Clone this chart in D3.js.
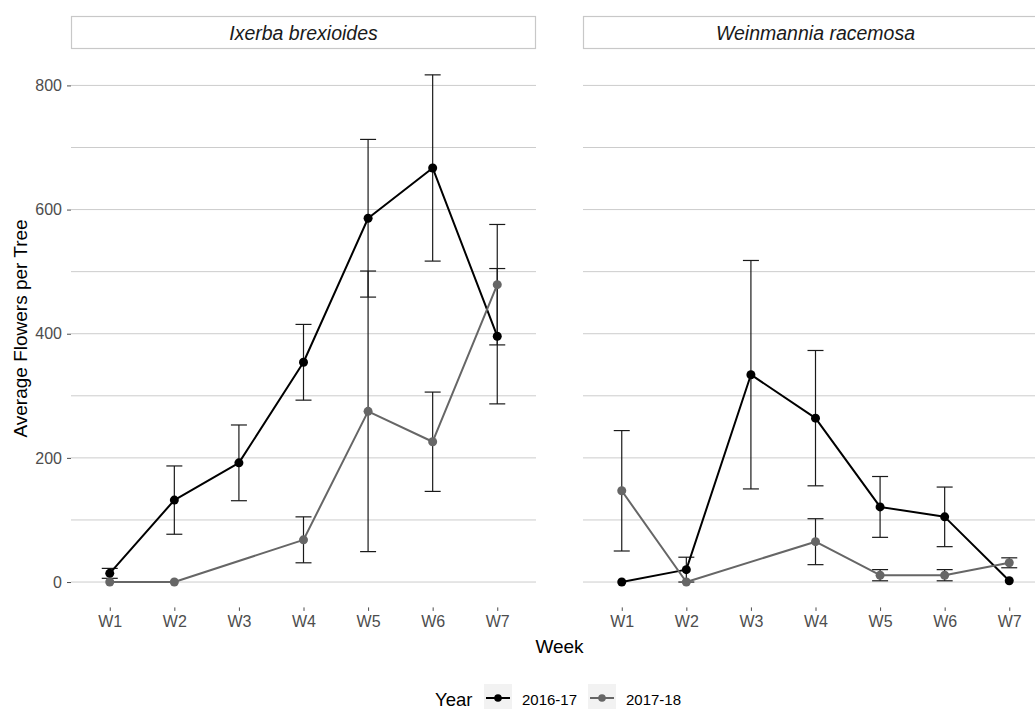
<!DOCTYPE html>
<html>
<head>
<meta charset="utf-8">
<script src="https://cdn.jsdelivr.net/npm/d3@7"></script>
<style>
  body { margin: 0; background: #fff; }
  svg { display: block; font-family: "Liberation Sans", Arial, sans-serif; }
</style>
</head>
<body>
<svg id="chart" width="1035" height="709"></svg>
<script>
// Survey weeks, species facets and flowering seasons
const weeks = ["W1", "W2", "W3", "W4", "W5", "W6", "W7"];
const species = ["Ixerba brexioides", "Weinmannia racemosa"];
const years = ["2016-17", "2017-18"];

// Mean flowers per tree and its error half-width (null = week not surveyed)
const ixerbaMean1617 = [14, 132, 192, 354, 586, 667, 396];
const ixerbaErr1617  = [8, 55, 61, 61, 127, 150, 109];
const ixerbaMean1718 = [0, 0, null, 68, 275, 226, 479];
const ixerbaErr1718  = [0, 0, null, 37, 226, 80, 97];
const weinMean1617   = [0, 20, 334, 264, 121, 105, 2];
const weinErr1617    = [0, 20, 184, 109, 49, 48, 0];
const weinMean1718   = [147, 0, null, 65, 11, 11, 31];
const weinErr1718    = [97, 0, null, 37, 9, 9, 8];

const yTicks = [0, 200, 400, 600, 800];
const yMinor = [100, 300, 500, 700];

const seriesColor = { "2016-17": "#000000", "2017-18": "#666666" };

// Assemble per-facet, per-year records
const facetData = {
  "Ixerba brexioides": {
    "2016-17": { mean: ixerbaMean1617, err: ixerbaErr1617 },
    "2017-18": { mean: ixerbaMean1718, err: ixerbaErr1718 }
  },
  "Weinmannia racemosa": {
    "2016-17": { mean: weinMean1617, err: weinErr1617 },
    "2017-18": { mean: weinMean1718, err: weinErr1718 }
  }
};
function records(sp, yr) {
  const s = facetData[sp][yr];
  return weeks.map((w, i) => ({ week: w, mean: s.mean[i], err: s.err[i] }))
              .filter(d => d.mean !== null);
}

const svg = d3.select("#chart");

// Layout
const panelLeft = 71, panelW = 465, panelGap = 47;
const panelTop = 49.5, panelBottom = 607.4;
const stripTop = 16.5, stripH = 32;

// Shared y scale with 5% expansion around the data range
let yMax = 0;
species.forEach(sp => years.forEach(yr => records(sp, yr).forEach(d => {
  yMax = Math.max(yMax, d.mean + d.err);
})));
const pad = yMax * 0.05;
const y = d3.scaleLinear().domain([-pad, yMax + pad]).range([panelBottom, panelTop]);

species.forEach((sp, i) => {
  const x0 = panelLeft + i * (panelW + panelGap);
  const x = d3.scalePoint().domain(weeks).range([x0, x0 + panelW]).padding(0.6);
  const g = svg.append("g");

  // Grid lines
  g.selectAll("line.minor").data(yMinor).join("line")
    .attr("x1", x0).attr("x2", x0 + panelW)
    .attr("y1", d => y(d)).attr("y2", d => y(d))
    .attr("stroke", "#cccccc").attr("stroke-width", 1);
  g.selectAll("line.major").data(yTicks).join("line")
    .attr("x1", x0).attr("x2", x0 + panelW)
    .attr("y1", d => y(d)).attr("y2", d => y(d))
    .attr("stroke", "#cccccc").attr("stroke-width", 1);

  // Facet strip
  g.append("rect")
    .attr("x", x0 + 0.5).attr("y", stripTop)
    .attr("width", panelW - 1).attr("height", stripH)
    .attr("fill", "#ffffff").attr("stroke", "#c8c8c8").attr("stroke-width", 1.2);
  g.append("text")
    .attr("x", x0 + panelW / 2).attr("y", stripTop + stripH / 2 + 7)
    .attr("text-anchor", "middle")
    .attr("font-size", 19.5).attr("font-style", "italic").attr("fill", "#1a1a1a")
    .text(sp);

  // x axis
  const xa = g.append("g").attr("transform", `translate(0,${panelBottom})`)
    .call(d3.axisBottom(x).tickSize(3.5).tickPadding(5));
  xa.select(".domain").remove();
  xa.selectAll(".tick line").attr("stroke", "#4d4d4d");
  xa.selectAll(".tick text").attr("font-size", 16).attr("fill", "#4d4d4d")
    .attr("font-family", "Liberation Sans, Arial, sans-serif");

  // y axis on the first panel only
  if (i === 0) {
    const ya = g.append("g").attr("transform", `translate(${x0},0)`)
      .call(d3.axisLeft(y).tickValues(yTicks).tickSize(4).tickPadding(5));
    ya.select(".domain").remove();
    ya.selectAll(".tick line").attr("stroke", "#4d4d4d");
    ya.selectAll(".tick text").attr("font-size", 16).attr("fill", "#4d4d4d")
      .attr("font-family", "Liberation Sans, Arial, sans-serif");
  }

  // Error bars
  years.forEach(yr => {
    const data = records(sp, yr).filter(d => d.err > 0);
    const eb = g.append("g").attr("stroke", "#1a1a1a").attr("stroke-width", 1.2).attr("fill", "none");
    eb.selectAll("line.v").data(data).join("line")
      .attr("x1", d => x(d.week)).attr("x2", d => x(d.week))
      .attr("y1", d => y(d.mean - d.err)).attr("y2", d => y(d.mean + d.err));
    eb.selectAll("line.t").data(data).join("line")
      .attr("x1", d => x(d.week) - 8).attr("x2", d => x(d.week) + 8)
      .attr("y1", d => y(d.mean + d.err)).attr("y2", d => y(d.mean + d.err));
    eb.selectAll("line.b").data(data).join("line")
      .attr("x1", d => x(d.week) - 8).attr("x2", d => x(d.week) + 8)
      .attr("y1", d => y(d.mean - d.err)).attr("y2", d => y(d.mean - d.err));
  });

  // Lines
  const line = d3.line().x(d => x(d.week)).y(d => y(d.mean));
  years.forEach(yr => {
    g.append("path").datum(records(sp, yr))
      .attr("d", line).attr("fill", "none")
      .attr("stroke", seriesColor[yr]).attr("stroke-width", 2)
      .attr("stroke-linejoin", "round");
  });

  // Points
  years.forEach(yr => {
    g.selectAll(null).data(records(sp, yr)).join("circle")
      .attr("cx", d => x(d.week)).attr("cy", d => y(d.mean)).attr("r", 4.5)
      .attr("fill", seriesColor[yr]);
  });
});

// Axis titles
const plotMid = panelLeft + (2 * panelW + panelGap) / 2;
svg.append("text")
  .attr("x", plotMid).attr("y", 653)
  .attr("text-anchor", "middle").attr("font-size", 19).attr("fill", "#000")
  .text("Week");
svg.append("text")
  .attr("transform", `translate(27,${(panelTop + panelBottom) / 2}) rotate(-90)`)
  .attr("text-anchor", "middle").attr("font-size", 19).attr("fill", "#000")
  .text("Average Flowers per Tree");

// Legend
const legend = svg.append("g");
legend.append("text")
  .attr("x", 435).attr("y", 706).attr("font-size", 18.5).attr("fill", "#000")
  .text("Year");
const keyX = [484, 588];
years.forEach((yr, i) => {
  const kx = keyX[i], ky = 684, ks = 28;
  legend.append("rect").attr("x", kx).attr("y", ky).attr("width", ks).attr("height", ks)
    .attr("fill", "#f2f2f2");
  legend.append("line")
    .attr("x1", kx + 2).attr("x2", kx + ks - 2)
    .attr("y1", ky + ks / 2).attr("y2", ky + ks / 2)
    .attr("stroke", seriesColor[yr]).attr("stroke-width", 2);
  legend.append("circle").attr("cx", kx + ks / 2).attr("cy", ky + ks / 2).attr("r", 3.8)
    .attr("fill", seriesColor[yr]);
  legend.append("text")
    .attr("x", kx + ks + 10).attr("y", 705).attr("font-size", 15).attr("fill", "#000")
    .text(yr);
});
</script>
</body>
</html>
